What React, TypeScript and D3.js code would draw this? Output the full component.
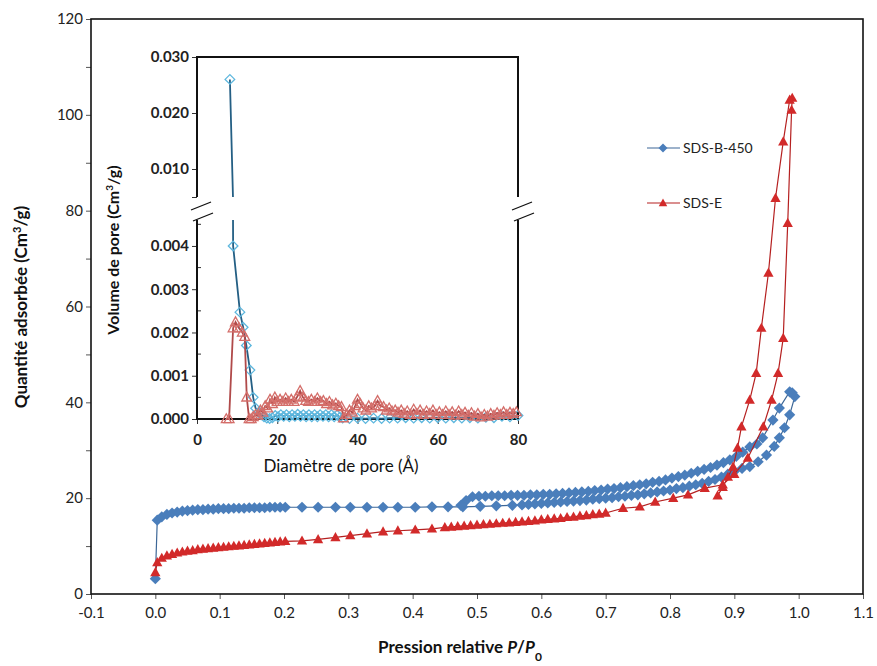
import { useEffect, useRef } from 'react';
import * as d3 from 'd3';

// main isotherm, [P/P0, volume]
const sdsB450Ads: [number, number][] = [
  [0, 3.2], [0.003, 15.4], [0.01, 16.1], [0.018, 16.6], [0.026, 16.9], [0.034, 17.1], [0.042, 17.3],
  [0.05, 17.4], [0.058, 17.5], [0.066, 17.6], [0.074, 17.6], [0.082, 17.7], [0.09, 17.7], [0.098, 17.8],
  [0.106, 17.8], [0.114, 17.8], [0.122, 17.9], [0.13, 17.9], [0.138, 17.9], [0.146, 18.0], [0.154, 18.0],
  [0.162, 18.0], [0.17, 18.0], [0.178, 18.1], [0.186, 18.1], [0.194, 18.1], [0.202, 18.1], [0.228, 18.1],
  [0.253, 18.1], [0.28, 18.1], [0.303, 18.1], [0.329, 18.1], [0.354, 18.1], [0.377, 18.1], [0.404, 18.1],
  [0.43, 18.2], [0.455, 18.2], [0.478, 18.2], [0.505, 18.3], [0.53, 18.4], [0.555, 18.5], [0.57, 18.6],
  [0.58, 18.7], [0.59, 18.8], [0.6, 18.9], [0.61, 19.0], [0.62, 19.1], [0.63, 19.2], [0.64, 19.3],
  [0.65, 19.4], [0.66, 19.5], [0.67, 19.6], [0.68, 19.8], [0.69, 19.9], [0.7, 20.0], [0.71, 20.1],
  [0.72, 20.3], [0.73, 20.4], [0.74, 20.6], [0.75, 20.7], [0.76, 20.9], [0.77, 21.1], [0.78, 21.3],
  [0.79, 21.5], [0.8, 21.7], [0.81, 22.0], [0.82, 22.2], [0.83, 22.5], [0.84, 22.8], [0.85, 23.1],
  [0.86, 23.5], [0.87, 23.9], [0.88, 24.4], [0.89, 25.0], [0.9, 25.6], [0.912, 26.2], [0.924, 26.6],
  [0.937, 27.6], [0.95, 29.0], [0.962, 30.8], [0.97, 32.6], [0.978, 34.7], [0.986, 37.4], [0.994, 41.2],
];
const sdsB450Des: [number, number][] = [
  [0.99, 42.0], [0.986, 42.2], [0.97, 38.8], [0.96, 36.3], [0.944, 32.6], [0.935, 31.3], [0.924, 30.7],
  [0.913, 29.6], [0.903, 28.7], [0.893, 28.0], [0.883, 27.4], [0.873, 26.9], [0.863, 26.4], [0.853, 26.0],
  [0.843, 25.6], [0.833, 25.2], [0.823, 24.8], [0.813, 24.5], [0.803, 24.2], [0.793, 23.8], [0.783, 23.5],
  [0.773, 23.3], [0.763, 23.0], [0.753, 22.8], [0.743, 22.6], [0.733, 22.4], [0.723, 22.2], [0.713, 22.0],
  [0.703, 21.9], [0.693, 21.7], [0.683, 21.6], [0.673, 21.4], [0.663, 21.3], [0.653, 21.2], [0.643, 21.1],
  [0.633, 21.0], [0.623, 20.9], [0.613, 20.8], [0.603, 20.8], [0.593, 20.7], [0.583, 20.7], [0.573, 20.6],
  [0.563, 20.6], [0.553, 20.6], [0.543, 20.5], [0.533, 20.5], [0.523, 20.5], [0.513, 20.4], [0.503, 20.4],
  [0.493, 20.3], [0.483, 19.5], [0.475, 18.5],
];
const sdsEAds: [number, number][] = [
  [0, 4.5], [0.003, 6.6], [0.01, 7.5], [0.018, 8.0], [0.026, 8.3], [0.034, 8.6], [0.042, 8.8], [0.05, 9.0],
  [0.058, 9.1], [0.066, 9.3], [0.074, 9.4], [0.082, 9.5], [0.09, 9.6], [0.098, 9.7], [0.106, 9.8],
  [0.114, 9.9], [0.122, 10.0], [0.13, 10.1], [0.138, 10.2], [0.146, 10.3], [0.154, 10.4], [0.162, 10.5],
  [0.17, 10.6], [0.178, 10.7], [0.186, 10.8], [0.194, 10.9], [0.202, 11.0], [0.228, 11.1], [0.253, 11.4],
  [0.28, 11.8], [0.303, 12.2], [0.329, 12.6], [0.354, 13.0], [0.377, 13.2], [0.404, 13.4], [0.43, 13.6],
  [0.45, 13.9], [0.46, 14.0], [0.47, 14.1], [0.48, 14.2], [0.49, 14.3], [0.5, 14.4], [0.51, 14.5],
  [0.52, 14.6], [0.53, 14.7], [0.54, 14.8], [0.55, 14.9], [0.56, 15.0], [0.57, 15.1], [0.58, 15.2],
  [0.59, 15.3], [0.6, 15.5], [0.61, 15.6], [0.62, 15.7], [0.63, 15.8], [0.64, 16.0], [0.65, 16.1],
  [0.66, 16.3], [0.67, 16.4], [0.68, 16.6], [0.69, 16.7], [0.7, 16.9], [0.727, 17.9], [0.753, 18.2],
  [0.777, 19.2], [0.805, 20.0], [0.828, 20.7], [0.854, 22.1], [0.882, 22.8], [0.9, 25.0], [0.921, 28.4],
  [0.945, 34.9], [0.958, 40.5], [0.968, 46.1], [0.976, 53.4], [0.983, 77.4], [0.989, 101.0], [0.99, 103.5],
];
const sdsEDes: [number, number][] = [
  [0.986, 103.1], [0.976, 94.4], [0.964, 82.6], [0.953, 67.0], [0.942, 55.5], [0.934, 46.1], [0.924, 40.5],
  [0.911, 34.9], [0.905, 30.5], [0.898, 26.5], [0.89, 24.4], [0.882, 22.3], [0.874, 20.5],
];

// inset, pore size distribution [diameter Å, volume]
const psdB450: [number, number][] = [
  [8.2, 0.026], [9.0, 0.004], [10.7, 0.00247], [11.5, 0.00212], [12.3, 0.0017], [13.2, 0.00113],
  [14.0, 0.0005], [14.6, 0.00025], [15.3, 0.00015], [16.0, 0.0001], [16.7, 0.00005], [17.4, 0.00002],
  [18.1, 0.00001], [18.8, 0.00003], [19.5, 0.00008], [20.2, 0.00005], [20.9, 0.0001], [21.6, 0.00006],
  [22.3, 0.0001], [23.0, 0.00005], [23.7, 0.0001], [24.4, 0.00006], [25.1, 0.00011], [25.8, 0.00006],
  [26.5, 0.0001], [27.2, 0.00005], [27.9, 0.0001], [28.6, 0.00005], [29.3, 0.0001], [30.0, 0.00005],
  [30.7, 0.0001], [31.4, 0.00006], [32.1, 0.0001], [32.8, 0.00005], [33.5, 0.0001], [34.2, 0.00005],
  [34.9, 0.00009], [35.6, 0.00004], [36.3, 0.00002], [38, 0.00001], [40, 0.00002], [42, 0.00001],
  [44, 0.00002], [46, 0.00001], [48, 0.00002], [50, 0.00002], [52, 0.00003], [54, 0.00002], [56, 0.00003],
  [58, 0.00002], [60, 0.00003], [62, 0.00002], [64, 0.00003], [66, 0.00002], [68, 0.00003], [70, 0.00002],
  [72, 0.00004], [74, 0.00003], [76, 0.00006], [78, 0.00005], [80, 0.00008],
];
const psdE: [number, number][] = [
  [7.3, 0], [8.0, 0], [9.0, 0.0021], [9.6, 0.00224], [10.5, 0.0021], [11.3, 0.002], [11.9, 0.0019],
  [12.4, 0.0005], [13.0, 0], [13.5, 0], [14.0, 0.00005], [14.6, 0.0001], [15.2, 0.00008], [15.8, 0.0002],
  [16.4, 0.00015], [17.0, 0.0003], [17.6, 0.00025], [18.2, 0.00045], [18.8, 0.00035], [19.4, 0.0005],
  [20.0, 0.0004], [20.7, 0.00045], [21.4, 0.0004], [22.1, 0.00048], [22.8, 0.0004], [23.5, 0.00045],
  [24.2, 0.0004], [25.0, 0.00052], [25.7, 0.00065], [26.4, 0.0005], [27.1, 0.00042], [27.8, 0.0004],
  [28.5, 0.00045], [29.3, 0.0004], [30.0, 0.00048], [30.8, 0.0004], [31.5, 0.00042], [32.3, 0.00035],
  [33.0, 0.0004], [33.8, 0.00032], [34.6, 0.00036], [35.3, 0.0003], [36.0, 0.00028], [36.5, 0.00002],
  [37.3, 0.0001], [38.0, 0.0002], [38.7, 0.00015], [39.4, 0.0003], [40.0, 0.00045], [40.7, 0.00035],
  [41.4, 0.00025], [42.1, 0.0002], [42.8, 0.0003], [43.5, 0.00025], [44.3, 0.0003], [45.0, 0.00042],
  [45.7, 0.0003], [46.5, 0.00028], [47.2, 0.0002], [47.9, 0.00025], [48.6, 0.00018], [49.4, 0.0002],
  [50.1, 0.00015], [50.9, 0.0002], [51.6, 0.00012], [52.4, 0.00018], [53.2, 0.0001], [54.0, 0.00022],
  [54.8, 0.00012], [55.6, 0.0002], [56.4, 0.0001], [57.2, 0.00018], [58.0, 0.00012], [58.8, 0.0002],
  [59.6, 0.0001], [60.4, 0.00016], [61.2, 0.0001], [62.0, 0.00018], [62.8, 0.0001], [63.6, 0.00016],
  [64.4, 0.00008], [65.2, 0.00018], [66.0, 0.0001], [66.8, 0.00015], [67.6, 0.00008], [68.4, 0.00014],
  [69.2, 0.00006], [70.0, 0.00012], [70.8, 0.00004], [71.6, 0.0001], [72.4, 0.00006], [73.2, 0.00012],
  [74.0, 0.00008], [74.8, 0.00014], [75.6, 0.0001], [76.4, 0.00016], [77.2, 0.0001], [78.0, 0.00015],
  [78.8, 0.00012], [79.6, 0.00016],
];

const xTicks = [-0.1, 0, 0.1, 0.2, 0.3, 0.4, 0.5, 0.6, 0.7, 0.8, 0.9, 1.0, 1.1];
const yTicks = [0, 10, 20, 30, 40, 50, 60, 70, 80, 90, 100, 110, 120];
const insetXTicks = [0, 20, 40, 60, 80];
const insetUpperTicks = [0.005, 0.01, 0.02, 0.03];
const insetLowerTicks = [0, 0.001, 0.002, 0.003, 0.004];
const insetLowerMinor = [0.0005, 0.0015, 0.0025, 0.0035, 0.0045];
const legendNames = ['SDS-B-450', 'SDS-E'];

const FONT = "Lato, 'Open Sans', sans-serif";
const diamond = (r: number) => `M0,${-r}L${r},0L0,${r}L${-r},0Z`;
const triangle = (r: number) => `M0,${-r}L${r * 0.95},${r * 0.7}L${-r * 0.95},${r * 0.7}Z`;

const App = () => {
  const ref = useRef<SVGSVGElement>(null);

  useEffect(() => {
    const svg = d3.select(ref.current);
    svg.selectAll('*').remove();

    const left = 91, right = 863, top = 19, bottom = 594;
    const x = d3.scaleLinear().domain([-0.1, 1.1]).range([left, right]);
    const y = d3.scaleLinear().domain([0, 120]).range([bottom, top]);

    // main axes
    const xAxis = svg.append('g')
      .attr('transform', `translate(0,${bottom})`)
      .call(d3.axisBottom(x).tickValues(xTicks).tickSize(5).tickSizeOuter(0).tickFormat(d => (+d).toFixed(1)));
    const yAxis = svg.append('g')
      .attr('transform', `translate(${left},0)`)
      .call(d3.axisLeft(y).tickValues(yTicks).tickSize(5).tickSizeOuter(0)
        .tickFormat(d => (+d % 20 === 0 ? String(d) : '')));
    [xAxis, yAxis].forEach(a => {
      a.select('.domain').remove();
      a.selectAll('line').attr('stroke', '#555');
      a.selectAll('text').attr('font-family', FONT).attr('font-size', 15).attr('fill', '#222');
    });
    xAxis.selectAll('text').attr('dy', '1.05em');

    svg.append('rect')
      .attr('x', left).attr('y', top).attr('width', right - left).attr('height', bottom - top)
      .attr('fill', 'none').attr('stroke', '#111').attr('stroke-width', 1.6);

    const line = d3.line<[number, number]>().x(d => x(d[0])).y(d => y(d[1]));

    const blue = '#4a7ebb', blueLine = '#3d6797';
    const red = '#d22a2a', redLine = '#b52020';

    const mainSeries = [
      { data: [...sdsB450Ads, ...sdsB450Des], fill: blue, stroke: blueLine, shape: diamond(5.6) },
      { data: [...sdsEAds, ...sdsEDes], fill: red, stroke: redLine, shape: triangle(5.4) },
    ];
    mainSeries.forEach(s => {
      svg.append('path').attr('d', line(s.data)).attr('fill', 'none')
        .attr('stroke', s.stroke).attr('stroke-width', 1.2);
      svg.append('g').selectAll('path').data(s.data).enter().append('path')
        .attr('d', s.shape)
        .attr('transform', d => `translate(${x(d[0])},${y(d[1])})`)
        .attr('fill', s.fill);
    });

    // legend
    const legend = svg.append('g').attr('font-family', FONT).attr('font-size', 14).attr('fill', '#222');
    legendNames.forEach((name, i) => {
      const ly = 148 + i * 55;
      const s = mainSeries[i];
      legend.append('line').attr('x1', 647).attr('x2', 680).attr('y1', ly).attr('y2', ly)
        .attr('stroke', s.stroke).attr('stroke-width', 1.2);
      legend.append('path').attr('d', i === 0 ? diamond(4.5) : triangle(4.5))
        .attr('transform', `translate(663,${ly})`).attr('fill', s.fill);
      legend.append('text').attr('x', 683).attr('y', ly + 5).text(name);
    });

    // titles
    const yt = svg.append('text')
      .attr('transform', 'translate(27,307) rotate(-90)')
      .attr('text-anchor', 'middle').attr('font-family', FONT).attr('font-size', 17)
      .attr('font-weight', 700).attr('fill', '#111');
    yt.append('tspan').text('Quantité adsorbée (Cm');
    yt.append('tspan').attr('baseline-shift', 'super').attr('font-size', 11).text('3');
    yt.append('tspan').text('/g)');

    const xt = svg.append('text')
      .attr('x', 460).attr('y', 653)
      .attr('text-anchor', 'middle').attr('font-family', FONT).attr('font-size', 17)
      .attr('font-weight', 700).attr('fill', '#111');
    xt.append('tspan').text('Pression relative ');
    xt.append('tspan').attr('font-style', 'italic').text('P');
    xt.append('tspan').text('/');
    xt.append('tspan').attr('font-style', 'italic').text('P');
    xt.append('tspan').attr('baseline-shift', 'sub').attr('font-size', 12).text('0');

    // ---- inset ----
    const iL = 197, iR = 518, iTop = 57, iUpBot = 197, iLowTop = 220, iBot = 419;
    const ix = d3.scaleLinear().domain([0, 80]).range([iL, iR]);
    const iyUp = d3.scaleLinear().domain([0.005, 0.03]).range([iUpBot, iTop]);
    const iyLow = d3.scaleLinear().domain([0, 0.0046]).range([iBot, iLowTop]);

    const defs = svg.append('defs');
    defs.append('clipPath').attr('id', 'clip-up').append('rect')
      .attr('x', iL - 8).attr('y', iTop - 8).attr('width', iR - iL + 16).attr('height', iUpBot - iTop + 8);
    defs.append('clipPath').attr('id', 'clip-low').append('rect')
      .attr('x', iL - 8).attr('y', iLowTop).attr('width', iR - iL + 16).attr('height', iBot - iLowTop + 10);

    const insetFont = (g: d3.Selection<SVGGElement, unknown, null, undefined>) => {
      g.select('.domain').remove();
      g.selectAll('line').attr('stroke', '#333');
      g.selectAll('text').attr('font-family', FONT).attr('font-size', 15)
        .attr('font-weight', 700).attr('fill', '#222');
    };

    const ixAxis = svg.append('g').attr('transform', `translate(0,${iBot})`)
      .call(d3.axisBottom(ix).tickValues(insetXTicks).tickSize(5).tickSizeOuter(0));
    insetFont(ixAxis);
    ixAxis.selectAll('text').attr('dy', '1.2em');

    const iyUpAxis = svg.append('g').attr('transform', `translate(${iL},0)`)
      .call(d3.axisLeft(iyUp).tickValues(insetUpperTicks).tickSize(5).tickSizeOuter(0)
        .tickFormat(d => (+d >= 0.01 ? d3.format('.3f')(+d) : '')));
    insetFont(iyUpAxis);
    const iyLowAxis = svg.append('g').attr('transform', `translate(${iL},0)`)
      .call(d3.axisLeft(iyLow).tickValues(insetLowerTicks).tickSize(5).tickSizeOuter(0)
        .tickFormat(d => d3.format('.3f')(+d)));
    insetFont(iyLowAxis);
    svg.append('g').selectAll('line').data(insetLowerMinor).enter().append('line')
      .attr('x1', iL).attr('x2', iL + 4).attr('y1', d => iyLow(d)).attr('y2', d => iyLow(d))
      .attr('stroke', '#333');

    const frame = svg.append('g').attr('stroke', '#111').attr('stroke-width', 2).attr('fill', 'none');
    frame.append('path').attr('d',
      `M${iL},${iUpBot}V${iTop}H${iR}V${iUpBot}M${iL},${iLowTop}V${iBot}H${iR}V${iLowTop}`);
    // break marks
    [iL, iR].forEach(bx => {
      frame.append('line').attr('x1', bx - 6).attr('y1', 210).attr('x2', bx + 14).attr('y2', 202)
        .attr('stroke-width', 1.3);
      frame.append('line').attr('x1', bx - 4).attr('y1', 221).attr('x2', bx + 16).attr('y2', 213)
        .attr('stroke-width', 1.3);
    });

    const insetSeries = [
      { data: psdB450, stroke: '#245f84', mark: '#5db7de', shape: diamond(4.8) },
      { data: psdE, stroke: '#b04a4a', mark: '#d46e6a', shape: triangle(5.2) },
    ];
    [{ yScale: iyUp, clip: 'clip-up' }, { yScale: iyLow, clip: 'clip-low' }].forEach(p => {
      const g = svg.append('g').attr('clip-path', `url(#${p.clip})`);
      const pl = d3.line<[number, number]>().x(d => ix(d[0])).y(d => p.yScale(d[1]));
      insetSeries.forEach(s => {
        g.append('path').attr('d', pl(s.data)).attr('fill', 'none')
          .attr('stroke', s.stroke).attr('stroke-width', 1.8);
        g.append('g').selectAll('path').data(s.data).enter().append('path')
          .attr('d', s.shape)
          .attr('transform', d => `translate(${ix(d[0])},${p.yScale(d[1])})`)
          .attr('fill', 'none').attr('stroke', s.mark).attr('stroke-width', 1.3);
      });
    });

    const iyt = svg.append('text')
      .attr('transform', 'translate(119,250) rotate(-90)')
      .attr('text-anchor', 'middle').attr('font-family', FONT).attr('font-size', 16)
      .attr('font-weight', 700).attr('fill', '#111');
    iyt.append('tspan').text('Volume de pore (Cm');
    iyt.append('tspan').attr('baseline-shift', 'super').attr('font-size', 10).text('3');
    iyt.append('tspan').text('/g)');

    svg.append('text').attr('x', 341).attr('y', 472).attr('text-anchor', 'middle')
      .attr('font-family', FONT).attr('font-size', 17).attr('fill', '#111')
      .text('Diamètre de pore (Å)');
  }, []);

  return (
    <svg ref={ref} width={877} height={666}
      style={{ position: 'absolute', left: 0, top: 0, background: '#fff' }} />
  );
};

export default App;
